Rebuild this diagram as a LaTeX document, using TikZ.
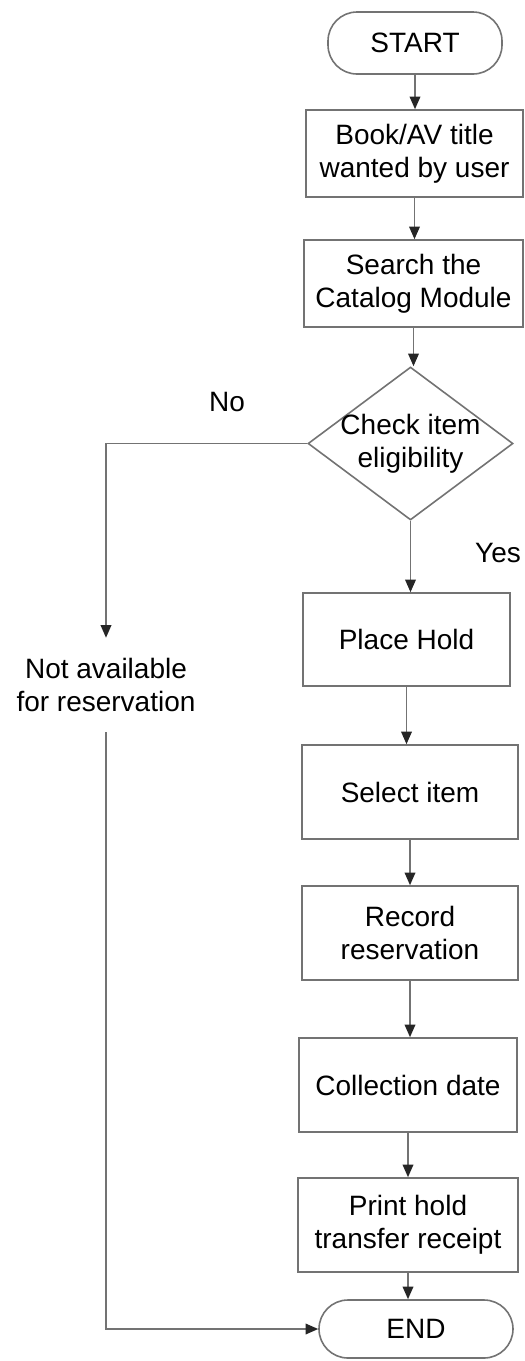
\documentclass[tikz,border=0pt]{standalone}
\usepackage{fontspec}
\setmainfont{Liberation Sans}
\usetikzlibrary{arrows.meta,shapes.geometric}
\newdimen\pxu \pxu=0.75pt
\tikzset{
  lbl/.style={font=\fontsize{21pt}{24.5pt}\selectfont, align=center, inner sep=0pt, text=black},
  box/.style={lbl, draw=black!55, line width=1.2pt, rectangle},
  term/.style={lbl, draw=black!55, line width=1.2pt, rectangle, rounded corners=29\pxu},
  dec/.style={draw=black!55, line width=1.2pt, diamond, inner sep=0pt},
  conn/.style={draw=black!55, line width=1.2pt},
  arr/.style={conn, -{Triangle[length=9.5pt,width=8pt,color=black!85]}}
}
\begin{document}
\begin{tikzpicture}[x=0.75pt,y=-0.75pt]
\useasboundingbox (0,0) rectangle (525,1361);
\node[term, minimum width=174\pxu, minimum height=62\pxu] (start) at (415,43) {START};
\node[box, minimum width=217\pxu, minimum height=87\pxu] (book) at (414.5,153.5) {Book/AV title\\wanted by user};
\node[box, minimum width=219\pxu, minimum height=87\pxu] (search) at (413.5,283.5) {Search the\\Catalog Module};
\node[dec, minimum width=205\pxu, minimum height=153\pxu,
      label={[lbl]center:{Check item\\eligibility}}] (dia) at (410.5,443.5) {};
\node[box, minimum width=207\pxu, minimum height=93\pxu] (hold) at (406.5,639.5) {Place Hold};
\node[box, minimum width=216\pxu, minimum height=94\pxu] (sel) at (410,792) {Select item};
\node[box, minimum width=216\pxu, minimum height=94\pxu] (rec) at (410,933) {Record\\reservation};
\node[box, minimum width=218\pxu, minimum height=94\pxu] (col) at (408,1085) {Collection date};
\node[box, minimum width=220\pxu, minimum height=94\pxu] (prt) at (408,1225) {Print hold\\transfer receipt};
\node[term, minimum width=194\pxu, minimum height=58\pxu] (end) at (416,1329) {END};
\node[lbl, minimum height=94\pxu] (na) at (106,685) {Not available\\for reservation};
\node[lbl] (no) at (227,402) {No};
\node[lbl] (yes) at (498,553) {Yes};

\draw[arr] (start.south) -- (start.south |- book.north);
\draw[arr] (book.south) -- (book.south |- search.north);
\draw[arr] (search.south) -- (search.south |- dia.north);
\draw[arr] (dia.south) -- (dia.south |- hold.north);
\draw[arr] (hold.south) -- (hold.south |- sel.north);
\draw[arr] (sel.south) -- (sel.south |- rec.north);
\draw[arr] (rec.south) -- (rec.south |- col.north);
\draw[arr] (col.south) -- (col.south |- prt.north);
\draw[arr] (prt.south) -- (prt.south |- end.north);
\draw[arr] (dia.west) -| (na.north);
\draw[arr] (na.south) |- (end.west);
\end{tikzpicture}
\end{document}
